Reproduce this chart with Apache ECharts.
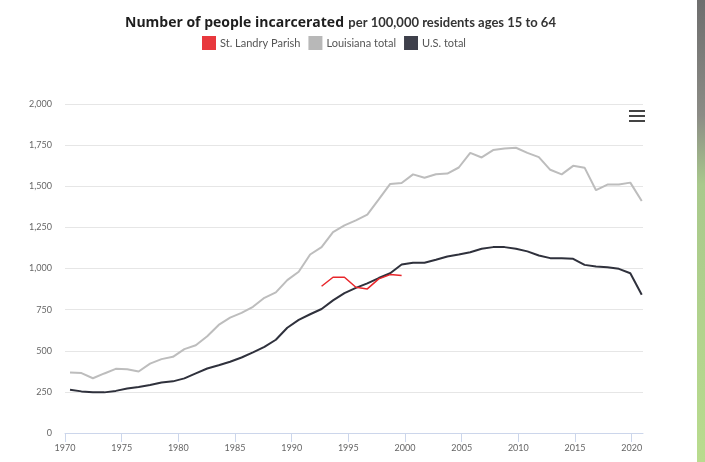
<!DOCTYPE html>
<html>
<head>
<meta charset="utf-8">
<style>
html,body{margin:0;padding:0;background:#fff;}
#chart{width:705px;height:462px;}
</style>
<script src="https://cdn.jsdelivr.net/npm/echarts@6/dist/echarts.min.js"></script>
</head>
<body>
<div id="chart"></div>
<script>
var years = [];
for (var y = 1970; y <= 2020; y++) years.push(y);

var louisiana = [368,364,333,362,390,388,374,422,449,463,
                 510,533,588,657,701,730,767,822,855,929,
                 980,1085,1130,1221,1262,1293,1328,1420,1514,1520,
                 1572,1552,1573,1577,1614,1703,1675,1720,1730,1734,
                 1703,1677,1600,1572,1624,1613,1476,1510,1510,1522,
                 1410];
var usTotal = [263,253,247,247,256,270,280,292,307,314,
               332,362,392,412,433,459,490,524,567,640,
               688,722,754,806,850,882,910,942,971,1024,
               1035,1035,1053,1073,1085,1099,1120,1130,1130,1120,
               1104,1079,1063,1063,1059,1022,1012,1008,998,971,
               841];
var stLandryYears = [1992,1993,1994,1995,1996,1997,1998,1999];
var stLandry = [892,947,947,886,876,937,963,957];

var xTickLabels = [1970,1975,1980,1985,1990,1995,2000,2005,2010,2015,2020];

function pairs(xs, vs){ return xs.map(function(x,i){ return [x, vs[i]]; }); }
function comma(v){ return String(v).replace(/\B(?=(\d{3})+(?!\d))/g, ','); }

var font = 'Lato, "Noto Sans", sans-serif';
var chart = echarts.init(document.getElementById('chart'), null, {renderer:'canvas'});
chart.setOption({
  animation: false,
  backgroundColor: '#ffffff',
  textStyle: { fontFamily: font },
  title: {
    left: 120, top: 9,
    text: '{a|Number of people incarcerated} {b|per 100,000 residents ages 15 to 64}',
    textStyle: {
      fontFamily: font,
      rich: {
        a: { fontFamily: '"Open Sans", Lato, sans-serif', fontSize: 14, fontWeight: 'bold', color: '#1e1e1e' },
        b: { fontFamily: font, fontSize: 13, color: '#333' }
      }
    }
  },
  legend: {
    left: 197, top: 31,
    icon: 'rect', itemWidth: 14, itemHeight: 14, itemGap: 8,
    textStyle: { fontFamily: font, fontSize: 11, color: '#555', padding: [0,0,0,-1] },
    data: ['St. Landry Parish', 'Louisiana total', 'U.S. total']
  },
  grid: { left: 65, right: 62, top: 104, bottom: 29, containLabel: false },
  xAxis: [{
    type: 'value', min: 1970, max: 2021,
    axisLine: { show: true, lineStyle: { color: '#ccd6eb', width: 1 } },
    axisTick: { show: true, length: 9, lineStyle: { color: '#ccd6eb' }, customValues: xTickLabels },
    axisLabel: { fontFamily: font, fontSize: 9, color: '#666', margin: 11, customValues: xTickLabels,
                 formatter: function(v){ return String(v); } },
    splitLine: { show: false }
  }, {
    type: 'value', min: 1969.56, max: 2020.11, show: false
  }],
  yAxis: {
    type: 'value', min: 0, max: 2000, interval: 250,
    axisLine: { show: false }, axisTick: { show: false },
    axisLabel: { fontFamily: font, fontSize: 9, color: '#666', margin: 13, formatter: function(v){ return comma(v); } },
    splitLine: { lineStyle: { color: '#e6e6e6', width: 1 } }
  },
  series: [{
    name: 'St. Landry Parish', type: 'line', xAxisIndex: 1, showSymbol: false, symbol: 'none',
    color: '#e8383d', lineStyle: { width: 1.5, color: '#e8262b' }, z: 5,
    data: pairs(stLandryYears, stLandry)
  }, {
    name: 'Louisiana total', type: 'line', xAxisIndex: 1, showSymbol: false, symbol: 'none',
    color: '#b8b8b8', lineStyle: { width: 2, color: '#bdbdbd' }, z: 3,
    data: pairs(years, louisiana)
  }, {
    name: 'U.S. total', type: 'line', xAxisIndex: 1, showSymbol: false, symbol: 'none',
    color: '#3e404b', lineStyle: { width: 2, color: '#2f313c' }, z: 4,
    data: pairs(years, usTotal)
  }],
  graphic: [
    { type: 'rect', left: 629, top: 110, shape: { width: 16, height: 2 }, style: { fill: '#444' } },
    { type: 'rect', left: 629, top: 115, shape: { width: 16, height: 2 }, style: { fill: '#444' } },
    { type: 'rect', left: 629, top: 120, shape: { width: 16, height: 2 }, style: { fill: '#444' } },
    { type: 'rect', left: 697, top: 0, shape: { width: 8, height: 462 },
      style: { fill: new echarts.graphic.LinearGradient(0,0,0,1,[
        {offset:0, color:'#6e6e6e'},{offset:0.25,color:'#8c8c86'},{offset:0.4,color:'#a9c98c'},{offset:1,color:'#b9dc8e'}]) } }
  ]
});
</script>
</body>
</html>
